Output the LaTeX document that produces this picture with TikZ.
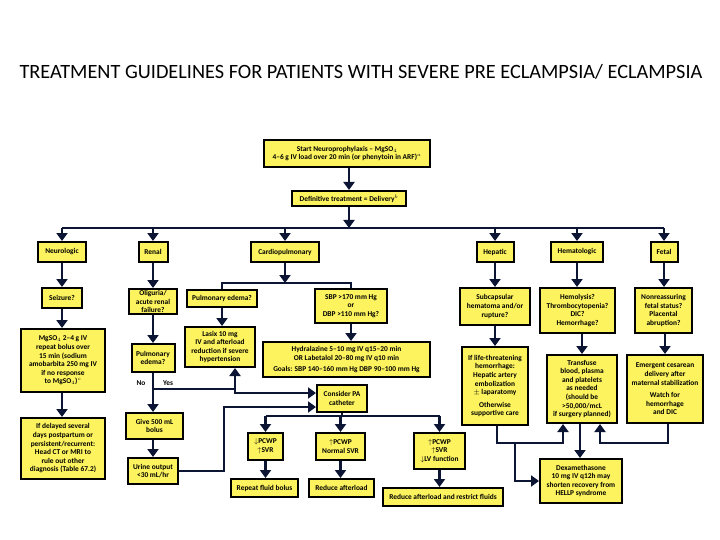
\documentclass[tikz,border=0pt]{standalone}
\usepackage{fontspec}
\setmainfont{Carlito}
\usetikzlibrary{arrows.meta}

\definecolor{boxyellow}{RGB}{252,243,95}
\definecolor{arrowblue}{RGB}{12,22,52}
\newcommand\boxfont{\fontsize{7.4}{8.6}\selectfont\bfseries}

\begin{document}
\begin{tikzpicture}[x=1pt, y=-1pt,
	box/.style={draw=black, line width=2pt, fill=boxyellow, font=\boxfont, align=center, inner sep=1pt},
	wire/.style={draw=arrowblue, line width=2.6pt},
	arr/.style={wire, -{Triangle[width=11pt,length=8pt]}}]
	\fill[white] (0,0) rectangle (720,540);
	\useasboundingbox (0,0) rectangle (720,540);

	\node[font=\fontsize{20.3}{23}\selectfont] (title) at (361,72) {TREATMENT GUIDELINES FOR PATIENTS WITH SEVERE PRE ECLAMPSIA/ ECLAMPSIA};

	% start of treatment
	\node[box, minimum width=166, minimum height=27] (start) at (347,153.5) {Start Neuroprophylaxis -- MgSO$_4$\\4--6 g IV load over 20 min (or phenytoin in ARF)$^a$};
	\node[box, minimum width=114, minimum height=15] (deliv) at (349,198.5) {Definitive treatment = Delivery$^b$};
	\draw[arr] (start.south -| deliv) -- (deliv.north);

	% organ systems
	\node[box, minimum width=48, minimum height=20] (neuro) at (62,252) {Neurologic};
	\node[box, minimum width=29, minimum height=20] (renal) at (153,252) {Renal};
	\node[box, minimum width=68, minimum height=20] (cardio) at (285,252) {Cardiopulmonary};
	\node[box, minimum width=37, minimum height=20] (hepatic) at (495,252) {Hepatic};
	\node[box, minimum width=52, minimum height=20] (hemat) at (577,252) {Hematologic};
	\node[box, minimum width=27, minimum height=20] (fetal) at (664,252) {Fetal};

	\coordinate (bar) at (349,228);
	\draw[arr] (deliv.south) -- (bar);
	\draw[wire] (neuro |- bar) -- (fetal |- bar);
	\foreach \n in {neuro,renal,cardio,hepatic,hemat,fetal}
		\draw[arr] (\n |- bar) -- (\n.north);

	% neurologic
	\node[box, minimum width=40, minimum height=20] (seizure) at (62,298) {Seizure?};
	\node[box, minimum width=84, minimum height=63] (bolus) at (63,360.5) {MgSO$_4$ 2--4 g IV\\repeat bolus over\\15 min (sodium\\amobarbita 250 mg IV\\if no response\\to MgSO$_4$)$^c$};
	\node[box, minimum width=84, minimum height=61] (delayed) at (63,448.5) {If delayed several\\days postpartum or\\persistent/recurrent:\\Head CT or MRI to\\rule out other\\diagnosis (Table 67.2)};
	\draw[arr] (neuro) -- (seizure);
	\draw[arr] (seizure.south) -- (seizure.south |- bolus.north);
	\draw[arr] (seizure.south |- bolus.south) -- (seizure.south |- delayed.north);

	% renal
	\node[box, minimum width=48, minimum height=25] (oliguria) at (153,301.5) {Oliguria/\\acute renal\\failure?};
	\node[box, minimum width=43, minimum height=28] (edemaR) at (153,358) {Pulmonary\\edema?};
	\node[box, minimum width=57, minimum height=26] (give) at (154.5,426) {Give 500 mL\\bolus};
	\node[box, minimum width=50, minimum height=26] (urine) at (153,471) {Urine output\\<30 mL/hr};
	\draw[arr] (renal) -- (oliguria);
	\draw[arr] (oliguria) -- (edemaR);
	\draw[arr] (edemaR.south) -- (edemaR.south |- give.north);
	\draw[arr] (edemaR.south |- give.south) -- (urine.north);
	\node[font=\boxfont] (no) at (141,383) {No};
	\node[font=\boxfont] (yes) at (168,383) {Yes};

	% cardiopulmonary
	\node[box, minimum width=70, minimum height=17] (edemaC) at (222,298.5) {Pulmonary edema?};
	\node[box, minimum width=70, minimum height=40] (lasix) at (220,347) {Lasix 10 mg\\IV and afterload\\reduction if severe\\hypertension};
	\node[box, minimum width=72, minimum height=34] (sbp) at (351,306) {SBP >170 mm Hg\\or\\DBP >110 mm Hg?};
	\node[box, minimum width=167, minimum height=35] (hydra) at (346.5,359.5) {Hydralazine 5--10 mg IV q15--20 min\\OR Labetalol 20--80 mg IV q10 min\\[2pt]Goals: SBP 140--160 mm Hg DBP 90--100 mm Hg};
	\node[box, minimum width=50, minimum height=27] (consider) at (342,398.5) {Consider PA\\catheter};
	\coordinate (cp) at (285,283);
	\draw[arr] (cardio.south) -- (cp);
	\draw[wire] (edemaC.north) |- (cp) -| (sbp.north);
	\draw[arr] (edemaC) -- (edemaC |- lasix.north);
	\draw[arr] (sbp) -- (sbp |- hydra.north);

	\coordinate (split) at (153,389);
	\coordinate (turn) at (235,389);
	\coordinate (urineup) at (224,407);
	\draw[wire] (split) -- (turn);
	\draw[arr] (turn) -- (turn |- lasix.south);
	\draw[arr] (turn) |- ([yshift=5.5pt]consider.west);
	\draw[arr] (urine.east) -| (urineup) -- ([yshift=-8.5pt]consider.west);

	% pulmonary artery catheter
	\node[box, minimum width=35, minimum height=27] (pcwpA) at (265.5,446.5) {$\downarrow$PCWP\\$\uparrow$SVR};
	\node[box, minimum width=49, minimum height=27] (pcwpB) at (340.5,446.5) {$\uparrow$PCWP\\Normal SVR};
	\node[box, minimum width=51, minimum height=36] (pcwpC) at (439.5,451) {$\uparrow$PCWP\\$\uparrow$SVR\\$\downarrow$LV function};
	\node[box, minimum width=67, minimum height=18] (repeat) at (264.5,488) {Repeat fluid bolus};
	\node[box, minimum width=65, minimum height=18] (reduce) at (341.5,488) {Reduce afterload};
	\node[box, minimum width=120, minimum height=18] (restrict) at (443,497) {Reduce afterload and restrict fluids};
	\coordinate (pa) at (342,416);
	\draw[wire] (consider.south) -- (pa);
	\draw[wire] (pcwpA |- pa) -- (pcwpC |- pa);
	\foreach \n in {pcwpA,pcwpB,pcwpC}
		\draw[arr] (\n |- pa) -- (\n.north);
	\draw[arr] (pcwpA) -- (pcwpA |- repeat.north);
	\draw[arr] (pcwpB) -- (pcwpB |- reduce.north);
	\draw[arr] (pcwpC) -- (pcwpC |- restrict.north);

	% hepatic, hematologic, fetal
	\node[box, minimum width=70, minimum height=37] (subcap) at (495,306.5) {Subcapsular\\hematoma and/or\\rupture?};
	\node[box, minimum width=66, minimum height=78] (lifethr) at (495,386) {If life-threatening\\hemorrhage:\\Hepatic artery\\embolization\\$\pm$ laparatomy\\[4pt]Otherwise\\supportive care};
	\node[box, minimum width=75, minimum height=45] (hemolysis) at (577.5,310.5) {Hemolysis?\\Thrombocytopenia?\\DIC?\\Hemorrhage?};
	\node[box, minimum width=70, minimum height=68] (transfuse) at (582,389) {Transfuse\\blood, plasma\\and platelets\\as needed\\(should be\\>50,000/mcL\\if surgery planned)};
	\node[box, minimum width=57, minimum height=45] (nonreass) at (663.5,310.5) {Nonreassuring\\fetal status?\\Placental\\abruption?};
	\node[box, minimum width=76, minimum height=68] (cesarean) at (665,389) {Emergent cesarean\\delivery after\\maternal stabilization\\[4pt]Watch for\\hemorrhage\\and DIC};
	\node[box, minimum width=82, minimum height=44] (dexa) at (581,481) {Dexamethasone\\10 mg IV q12h may\\shorten recovery from\\HELLP syndrome};
	\draw[arr] (hepatic) -- (subcap);
	\draw[arr] (subcap) -- (lifethr);
	\draw[arr] (hemat) -- (hemat |- hemolysis.north);
	\draw[arr] (hemolysis.south -| transfuse) -- (transfuse.north);
	\draw[arr] (fetal) -- (fetal |- nonreass.north);
	\draw[arr] (nonreass.south -| cesarean) -- (cesarean.north);

	\coordinate (hleft) at (497,443);
	\coordinate (hright) at (668,443);
	\coordinate (hdown) at (515,443);
	\draw[arr] (lifethr.south -| hleft) -- (hleft) -| ([xshift=-19pt]transfuse.south);
	\draw[arr] (cesarean.south -| hright) -- (hright) -| ([xshift=18pt]transfuse.south);
	\draw[arr] ([xshift=-2pt]transfuse.south) -- ([xshift=-1pt]dexa.north);
	\draw[arr] (hdown) |- (dexa.west);
\end{tikzpicture}
\end{document}
